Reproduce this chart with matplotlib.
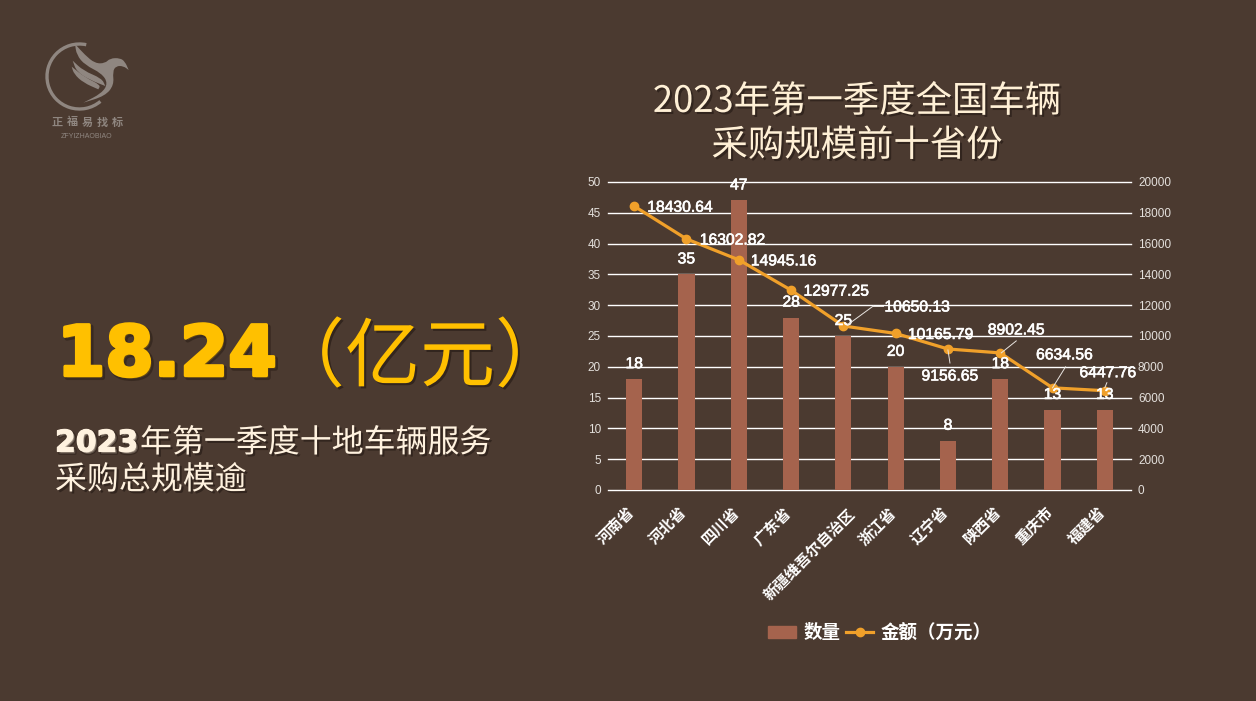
import matplotlib
matplotlib.use("Agg")
import matplotlib.pyplot as plt
import matplotlib.patheffects as pe
from matplotlib.patches import Arc, PathPatch, Patch
from matplotlib.path import Path
from matplotlib.lines import Line2D
from matplotlib.transforms import IdentityTransform, ScaledTranslation

# ---------- data ----------
provinces = ["河南省", "河北省", "四川省", "广东省", "新疆维吾尔自治区",
             "浙江省", "辽宁省", "陕西省", "重庆市", "福建省"]
counts = [18, 35, 47, 28, 25, 20, 8, 18, 13, 13]
amounts = [18430.64, 16302.82, 14945.16, 12977.25, 10650.13,
           10165.79, 9156.65, 8902.45, 6634.56, 6447.76]
left_ticks = [0, 5, 10, 15, 20, 25, 30, 35, 40, 45, 50]
right_ticks = [0, 2000, 4000, 6000, 8000, 10000, 12000, 14000, 16000, 18000, 20000]
title_text = "2023年第一季度全国车辆\n采购规模前十省份"
big_number = "18.24"
big_unit = "（亿元）"
sub_year = "2023"
sub_line1 = "年第一季度十地车辆服务"
sub_line2 = "采购总规模逾"
legend_bar = "数量"
legend_line = "金额（万元）"
logo_cn = "正福易找标"
logo_en = "ZFYIZHAOBIAO"

# ---------- style ----------
W, H = 1256, 701
BG = "#4B3A30"
BAR = "#A5634D"
LINE = "#F0A02A"
CREAM = "#FFF2DF"
GOLD = "#FFC000"
LOGO = "#8F8680"
CJK = ["Noto Sans CJK SC", "DejaVu Sans"]
LATIN = ["Liberation Sans", "Noto Sans CJK SC"]

# label offsets from the line's points, in pixels
line_label_off = [(46, -1), (46, -1), (45, -1), (45, -1), (74, 19),
                  (45, -1), (2, -27), (16, 23), (12, 33), (3, 18)]
# leader segments, pixel offsets from the point
leaders = {4: [(4, 1), (30, 20), (40, 20)], 6: [(0, -1), (2, -14)],
           7: [(1, 0), (16, 12)], 8: [(0, 0), (13, 21)], 9: [(0, 3), (2, 8)]}

fig = plt.figure(figsize=(W / 100, H / 100), dpi=100, facecolor=BG)


def fx(x):
    return x / W


def fy(y):
    return 1 - y / H


def drop(extra=0, color=None):
    # dark offset copy below the glyphs, optionally thickened with a same-colour outline
    if extra:
        return [pe.withStroke(linewidth=extra + 1, foreground="#2A1D16", alpha=0.55, offset=(1.5, -1.5)),
                pe.withStroke(linewidth=extra, foreground=color)]
    return [pe.withSimplePatchShadow(offset=(1.5, -1.5), shadow_rgbFace="#1E1410", alpha=0.55)]


thick_white = [pe.withStroke(linewidth=0.45, foreground="white")]

ax = fig.add_axes([fx(608), fy(490), 523 / W, 308 / H])
ax.set_facecolor("none")
ax.bar(range(len(counts)), counts, width=0.31, color=BAR, zorder=3)
ax.set_xlim(-0.5, 9.5)
ax.set_ylim(0, 50)
ax.set_yticks(left_ticks)
ax.grid(axis="y", color="white", lw=1.0, zorder=1, clip_on=False)
ax.set_axisbelow(True)
ax.tick_params(axis="x", length=0, pad=10)
ax.tick_params(axis="y", length=0, pad=5, labelsize=8.5, labelcolor="#E4E0DC")
ax.set_xticks(range(len(provinces)))
ax.set_xticklabels(provinces, rotation=45, ha="right", rotation_mode="anchor",
                   family=CJK, fontsize=11, color="white", weight="bold")
for s in ax.spines.values():
    s.set_visible(False)
for lab in ax.get_yticklabels():
    lab.set_family(LATIN)

ax2 = ax.twinx()
ax2.set_ylim(0, 20000)
ax2.set_yticks(right_ticks)
ax2.tick_params(axis="y", length=0, pad=5, labelsize=8.5, labelcolor="#E4E0DC")
for lab in ax2.get_yticklabels():
    lab.set_family(LATIN)
for s in ax2.spines.values():
    s.set_visible(False)
for i, lab in enumerate(ax.get_xticklabels()):
    shift_x, shift_y = (4, -2) if i == 4 else (-8, 0)
    lab.set_transform(lab.get_transform() + ScaledTranslation(shift_x / 100, shift_y / 100, fig.dpi_scale_trans))
ax2.plot(range(len(amounts)), amounts, color=LINE, lw=2.3, marker="o", ms=6, zorder=5, clip_on=False)

for i, v in enumerate(amounts):
    dx, dy = line_label_off[i]
    ax2.annotate(f"{v:.2f}", xy=(i, v), xytext=(dx, dy), textcoords="offset pixels",
                 ha="center", va="center", family=LATIN, fontsize=11.3, color="white",
                 zorder=7, annotation_clip=False, path_effects=thick_white)
    pts = leaders.get(i, [])
    x0, y0 = ax2.transData.transform((i, v))
    for a, b in zip(pts[:-1], pts[1:]):
        fig.add_artist(Line2D([x0 + a[0], x0 + b[0]], [y0 + a[1], y0 + b[1]],
                              transform=IdentityTransform(), color="#E8E4E0", lw=0.7, zorder=6))

for i, c in enumerate(counts):
    ax2.annotate(str(c), xy=(i, c * 400), xytext=(0, 15.5), textcoords="offset pixels",
                 ha="center", va="center", family=LATIN, fontsize=11.3, color="white",
                 zorder=8, annotation_clip=False, path_effects=thick_white)

# title
fig.text(fx(857), fy(124), title_text, ha="center", va="center", family=CJK, fontsize=26.2,
         color="#FFF0D6", linespacing=1.29, path_effects=drop())

# left text
fig.text(fx(57), fy(356), big_number, ha="left", va="center", family="DejaVu Sans", weight="bold",
         fontsize=50, color=GOLD, path_effects=drop(2.5, GOLD))
fig.text(fx(270), fy(359), big_unit, ha="left", va="center", family=CJK, fontsize=54,
         color=GOLD, path_effects=drop())
fig.text(fx(55), fy(443), sub_year, ha="left", va="center", family="DejaVu Sans", weight="bold",
         fontsize=21.5, color=CREAM, path_effects=drop(0.8, CREAM))
fig.text(fx(140), fy(443), sub_line1, ha="left", va="center", family=CJK, fontsize=23,
         color=CREAM, path_effects=drop())
fig.text(fx(55), fy(480), sub_line2, ha="left", va="center", family=CJK, fontsize=23,
         color=CREAM, path_effects=drop())

# legend
handles = [Patch(color=BAR), Line2D([], [], color=LINE, lw=2.3, marker="o", ms=6)]
fig.legend(handles, [legend_bar, legend_line], ncol=2, frameon=False,
           loc="center", bbox_to_anchor=(fx(880), fy(633)),
           prop=dict(family=CJK, size=13.3, weight="bold"),
           labelcolor="white", handlelength=1.5, handleheight=0.65,
           handletextpad=0.4, columnspacing=0.3)

# logo
logo_ax = fig.add_axes([0, 0, 1, 1], facecolor="none")
logo_ax.set_xlim(0, W)
logo_ax.set_ylim(H, 0)
logo_ax.axis("off")


def zp(points):
    return [(x / 3 + 30, y / 3 + 30) for x, y in points]


def blob(points):
    p = zp(points)
    n = len(p)
    mid = lambda a, b: ((a[0] + b[0]) / 2, (a[1] + b[1]) / 2)
    verts = [mid(p[-1], p[0])]
    codes = [Path.MOVETO]
    for i in range(n):
        verts += [p[i], mid(p[i], p[(i + 1) % n])]
        codes += [Path.CURVE3, Path.CURVE3]
    logo_ax.add_patch(PathPatch(Path(verts, codes), fc=LOGO, ec="none"))


logo_ax.add_patch(Arc((79.5, 76.5), 65, 65, angle=0, theta1=50, theta2=282, color=LOGO, lw=2.4))
blob([(135, 42), (135, 42), (165, 75), (195, 100), (225, 100), (240, 85), (270, 84), (285, 95), (296, 120),
      (296, 120), (280, 108), (258, 108), (248, 125), (252, 165), (225, 198), (160, 218), (160, 218),
      (215, 190), (234, 160), (215, 130), (165, 105), (140, 75)])
blob([(128, 92), (128, 92), (160, 122), (215, 145), (226, 168), (226, 168), (180, 150), (140, 125)])
blob([(125, 110), (125, 110), (165, 142), (212, 165), (205, 178), (205, 178), (160, 158), (132, 132)])

for i, ch in enumerate(logo_cn):
    logo_ax.text(57 + i * 15, 122, ch, ha="center", va="center", family=CJK, fontsize=8, weight="bold", color=LOGO)
logo_ax.text(87, 136, logo_en, ha="center", va="center", family=LATIN, fontsize=5, color=LOGO)

fig.savefig("out.png", dpi=100, facecolor=BG)
